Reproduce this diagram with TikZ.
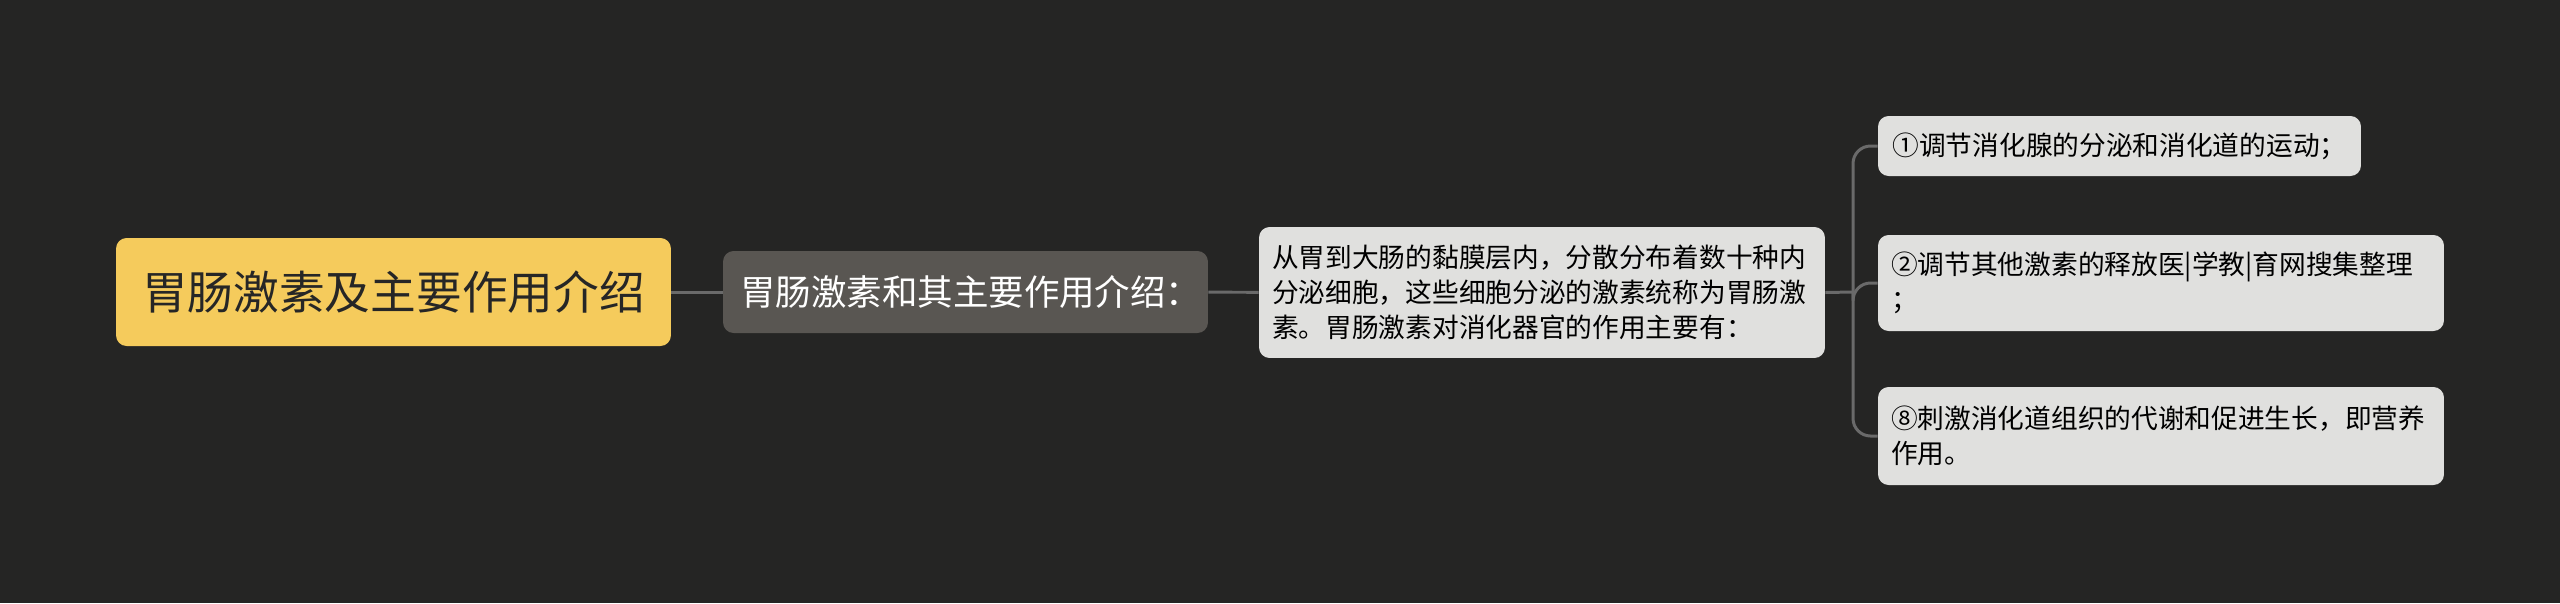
\documentclass[tikz,border=0pt]{standalone}
\usepackage{fontspec}
\setmainfont{Noto Sans CJK SC}
\usepackage{tikz}
\usetikzlibrary{positioning}
\definecolor{canvas}{HTML}{252524}
\definecolor{rootfill}{HTML}{F5CB5C}
\definecolor{midfill}{HTML}{595652}
\definecolor{leaffill}{HTML}{E0E0DE}
\definecolor{linkcol}{HTML}{6A6A6A}

\begin{document}
\begin{tikzpicture}[x=0.02cm,y=-0.02cm,
  box/.style={rounded corners=6pt, inner sep=0pt},
  rootbox/.style={box, fill=rootfill, text=black!85, minimum width=11.1cm, minimum height=2.16cm,
    font=\fontsize{26}{30}\selectfont},
  midbox/.style={box, fill=midfill, text=white, minimum width=9.7cm, minimum height=1.64cm,
    font=\fontsize{20.2}{24}\selectfont},
  leafbox/.style={box, fill=leaffill, text=black, align=left,
    font=\fontsize{15.2}{19.9}\selectfont},
  link/.style={draw=linkcol, line width=1.7pt}]
\fill [canvas] (0,0) rectangle (2560,603);
\useasboundingbox (0,0) rectangle (2560,603);
%%%%%%%%%
\node [rootbox] (topic) at (393.5,292) {胃肠激素及主要作用介绍};
\node [midbox] (intro) at (965.5,292) {\hspace*{6pt}胃肠激素和其主要作用介绍：};
\node [leafbox, minimum width=11.32cm, minimum height=2.62cm, text width=10.8cm] (desc) at (1542,292.5)
  {从胃到大肠的黏膜层内，分散分布着数十种内\\分泌细胞，这些细胞分泌的激素统称为胃肠激\\素。胃肠激素对消化器官的作用主要有：};
%%%%%%%%%
\node [leafbox, minimum width=9.66cm, minimum height=1.2cm, align=center] (fnA) at (2119.5,146)
  {①调节消化腺的分泌和消化道的运动；};
\node [leafbox, minimum width=11.32cm, minimum height=1.92cm, text width=10.8cm] (fnB) at (2161,283)
  {②调节其他激素的释放医|学教|育网搜集整理\\；};
\node [leafbox, minimum width=11.32cm, minimum height=1.96cm, text width=10.8cm] (fnC) at (2161,436)
  {⑧刺激消化道组织的代谢和促进生长，即营养\\作用。};
%%%%%%%%%
\coordinate (fork) at (1853,292);
\draw [link] (topic) -- (intro);
\draw [link] (intro) -- (desc);
\draw [link] (desc.east) -- (fork);
\draw [link, rounded corners=10pt] (fork) |- (fnA.west);
\draw [link, rounded corners=10pt] (fork) |- (fnB.west);
\draw [link, rounded corners=10pt] (fork) |- (fnC.west);
\end{tikzpicture}
\end{document}
